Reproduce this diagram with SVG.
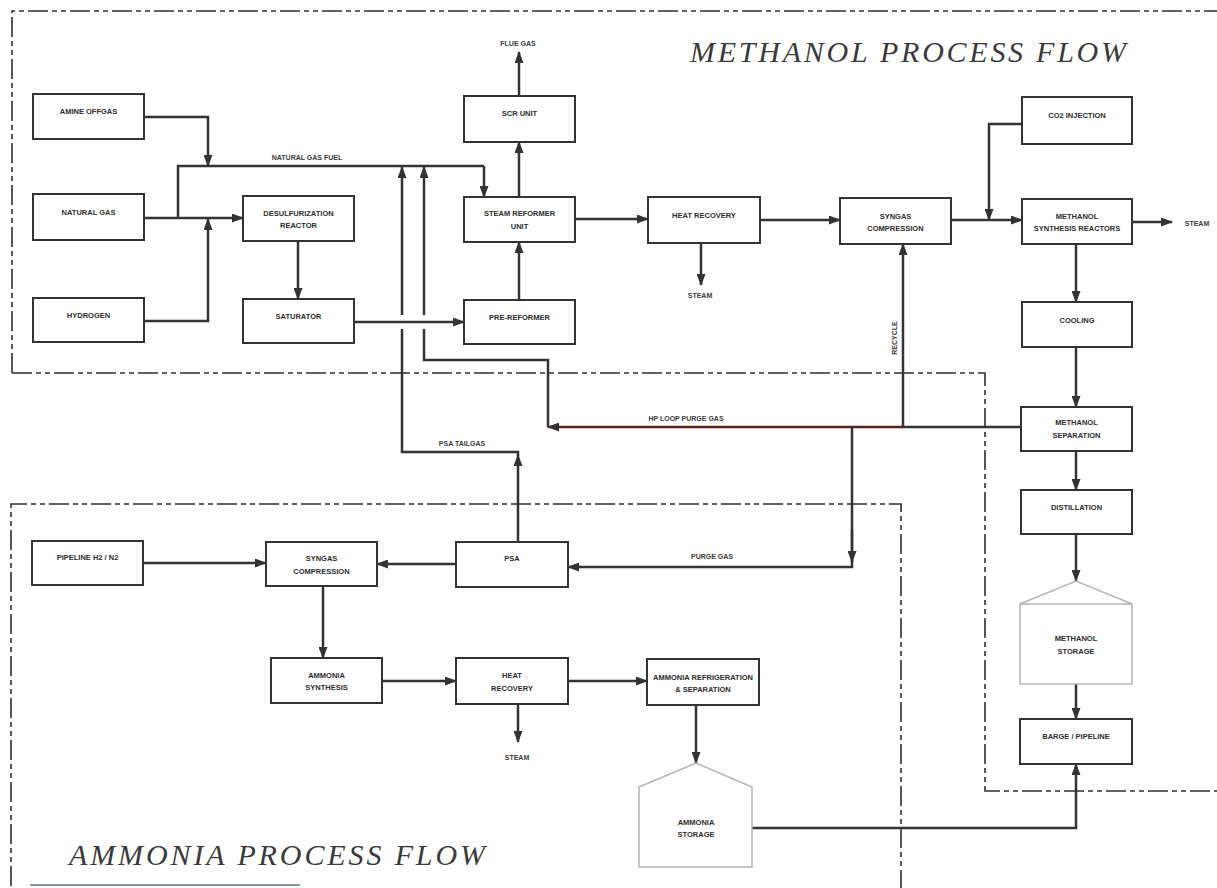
<svg xmlns="http://www.w3.org/2000/svg" width="1217" height="888" viewBox="0 0 1217 888">
<defs>
<marker id="arr" markerUnits="userSpaceOnUse" markerWidth="12" markerHeight="9" refX="11" refY="4.5" orient="auto">
<path d="M0,0 L12,4.5 L0,9 z" fill="#333"/>
</marker>
<style>
.box{fill:#fff;stroke:#333;stroke-width:2}
.tank{fill:#fff;stroke:#b4b4b4;stroke-width:1.5}
.t{font-family:"Liberation Sans",Arial,sans-serif;font-size:7.5px;font-weight:bold;fill:#2c2c2c;text-anchor:middle;dominant-baseline:central}
.lbl{font-family:"Liberation Sans",Arial,sans-serif;font-size:7px;font-weight:bold;fill:#3a3a3a;text-anchor:middle;dominant-baseline:central}
.c{fill:none;stroke:#333;stroke-width:2.5;stroke-linejoin:miter}
.cm{fill:none;stroke:#333;stroke-width:2.5;marker-end:url(#arr)}
.bd{fill:none;stroke:#2e2e2e;stroke-width:1.6;stroke-dasharray:20 4 5 4 5 4}
.title{font-family:"Liberation Serif","Times New Roman",serif;font-style:italic;font-size:30px;fill:#3a3a3a}
</style>
</defs>
<rect width="1217" height="888" fill="#fff"/>

<g id="boundaries">
<path class="bd" d="M12,373 V11 H1217"/>
<path class="bd" d="M12,373 H985 V791 H1217"/>
<path class="bd" d="M11,886 V504 H901 V888"/>
<line x1="30" y1="885" x2="300" y2="885" stroke="#7f9a98" stroke-width="2"/>
</g>

<g id="titles">
<text class="title" x="690" y="62" textLength="436" lengthAdjust="spacing">METHANOL PROCESS FLOW</text>
<text class="title" x="69" y="865" textLength="416" lengthAdjust="spacing">AMMONIA PROCESS FLOW</text>
</g>

<g id="connectors">
<!-- methanol -->
<path class="cm" d="M144,117 H208 V166"/>
<path class="cm" d="M144,218 H243"/>
<path class="c" d="M178,218 V166 H484"/>
<path class="cm" d="M484,166 V197"/>
<path class="cm" d="M144,321 H208 V219"/>
<path class="cm" d="M298,241 V299"/>
<path class="cm" d="M519,300 V242"/>
<path class="cm" d="M519,197 V142"/>
<path class="cm" d="M519,96 V52"/>
<path class="cm" d="M575,219 H648"/>
<path class="cm" d="M701,243 V285"/>
<path class="cm" d="M760,220 H840"/>
<path class="cm" d="M951,220 H1022"/>
<path class="cm" d="M1022,124 H989 V220"/>
<path class="cm" d="M1132,222 H1172"/>
<path class="cm" d="M1076,244 V302"/>
<path class="cm" d="M1076,347 V407"/>
<path class="cm" d="M1076,451 V490"/>
<path class="cm" d="M1076,534 V581"/>
<path class="cm" d="M1076,684 V719"/>
<path class="cm" d="M752,828 H1076 V764"/>
<!-- recycle / purge -->
<path class="c" d="M1021,427 H903"/>
<path fill="none" stroke="#5a2020" stroke-width="2.5" d="M903,427 H548" marker-end="url(#arr)"/>
<path class="cm" d="M548,427 V360 H424 V167"/>
<path class="cm" d="M903,427 V244"/>
<path class="cm" d="M852,427 V567 H568"/>
<path class="cm" d="M852,530 V562"/>
<path class="cm" d="M518,542 V455"/>
<path class="cm" d="M518,456 V452 H402 V167"/>
<!-- line hops where the verticals cross the saturator line -->
<path fill="none" stroke="#fff" stroke-width="4" d="M402,315 V329 M424,315 V329"/>
<path class="cm" d="M354,322 H464"/>
<!-- ammonia -->
<path class="cm" d="M143,563 H266"/>
<path class="cm" d="M456,564 H377"/>
<path class="cm" d="M323,586 V658"/>
<path class="cm" d="M382,681 H456"/>
<path class="cm" d="M568,681 H647"/>
<path class="cm" d="M518,704 V742"/>
<path class="cm" d="M696,705 V763"/>
</g>

<g id="labels">
<text class="lbl" x="307" y="157">NATURAL GAS FUEL</text>
<text class="lbl" x="518" y="43">FLUE GAS</text>
<text class="lbl" x="700" y="295">STEAM</text>
<text class="lbl" x="1197" y="223">STEAM</text>
<text class="lbl" x="686" y="418">HP LOOP PURGE GAS</text>
<text class="lbl" x="462" y="443">PSA TAILGAS</text>
<text class="lbl" x="712" y="556">PURGE GAS</text>
<text class="lbl" x="517" y="757">STEAM</text>
<text class="lbl" transform="translate(894,338) rotate(-90)" x="0" y="0">RECYCLE</text>
</g>

<g id="amine-offgas"><rect class="box" x="33" y="94" width="111" height="45"/><text class="t" x="88.5" y="111">AMINE OFFGAS</text></g>
<g id="natural-gas"><rect class="box" x="33" y="194" width="111" height="46"/><text class="t" x="88.5" y="212">NATURAL GAS</text></g>
<g id="hydrogen"><rect class="box" x="33" y="298" width="111" height="44"/><text class="t" x="88.5" y="315">HYDROGEN</text></g>
<g id="desulfurization"><rect class="box" x="243" y="196" width="111" height="45"/><text class="t" x="298.5" y="213">DESULFURIZATION</text><text class="t" x="298.5" y="225">REACTOR</text></g>
<g id="saturator"><rect class="box" x="243" y="299" width="111" height="44"/><text class="t" x="298.5" y="316">SATURATOR</text></g>
<g id="scr-unit"><rect class="box" x="464" y="96" width="111" height="46"/><text class="t" x="519.5" y="113">SCR UNIT</text></g>
<g id="steam-reformer"><rect class="box" x="464" y="197" width="111" height="45"/><text class="t" x="519.5" y="213">STEAM REFORMER</text><text class="t" x="519.5" y="226">UNIT</text></g>
<g id="pre-reformer"><rect class="box" x="464" y="300" width="111" height="44"/><text class="t" x="519.5" y="317">PRE-REFORMER</text></g>
<g id="heat-recovery-m"><rect class="box" x="648" y="197" width="112" height="46"/><text class="t" x="704" y="215">HEAT RECOVERY</text></g>
<g id="syngas-compression-m"><rect class="box" x="840" y="198" width="111" height="46"/><text class="t" x="895.5" y="216">SYNGAS</text><text class="t" x="895.5" y="228">COMPRESSION</text></g>
<g id="co2-injection"><rect class="box" x="1022" y="97" width="110" height="47"/><text class="t" x="1077" y="115">CO2 INJECTION</text></g>
<g id="methanol-synthesis"><rect class="box" x="1022" y="199" width="110" height="45"/><text class="t" x="1077" y="216">METHANOL</text><text class="t" x="1077" y="228">SYNTHESIS REACTORS</text></g>
<g id="cooling"><rect class="box" x="1022" y="302" width="110" height="45"/><text class="t" x="1077" y="320">COOLING</text></g>
<g id="methanol-separation"><rect class="box" x="1021" y="407" width="111" height="44"/><text class="t" x="1076.5" y="422">METHANOL</text><text class="t" x="1076.5" y="435">SEPARATION</text></g>
<g id="distillation"><rect class="box" x="1021" y="490" width="111" height="44"/><text class="t" x="1076.5" y="507">DISTILLATION</text></g>
<g id="methanol-storage"><path class="tank" d="M1020,604 L1076,581 L1132,604 V684 H1020 Z M1020,604 H1132"/><text class="t" x="1076" y="638">METHANOL</text><text class="t" x="1076" y="651">STORAGE</text></g>
<g id="barge-pipeline"><rect class="box" x="1020" y="719" width="112" height="45"/><text class="t" x="1076" y="736">BARGE / PIPELINE</text></g>

<g id="pipeline-h2n2"><rect class="box" x="32" y="541" width="111" height="44"/><text class="t" x="87.5" y="557">PIPELINE H2 / N2</text></g>
<g id="syngas-compression-a"><rect class="box" x="266" y="542" width="111" height="44"/><text class="t" x="321.5" y="558">SYNGAS</text><text class="t" x="321.5" y="571">COMPRESSION</text></g>
<g id="psa"><rect class="box" x="456" y="542" width="112" height="45"/><text class="t" x="512" y="558">PSA</text></g>
<g id="ammonia-synthesis"><rect class="box" x="271" y="658" width="111" height="45"/><text class="t" x="326.5" y="675">AMMONIA</text><text class="t" x="326.5" y="687">SYNTHESIS</text></g>
<g id="heat-recovery-a"><rect class="box" x="456" y="658" width="112" height="46"/><text class="t" x="512" y="675">HEAT</text><text class="t" x="512" y="688">RECOVERY</text></g>
<g id="ammonia-refrigeration"><rect class="box" x="647" y="659" width="112" height="46"/><text class="t" x="703" y="677">AMMONIA REFRIGERATION</text><text class="t" x="703" y="689">&amp; SEPARATION</text></g>
<g id="ammonia-storage"><path class="tank" d="M639,787 L696,763 L752,787 V867 H639 Z"/><text class="t" x="696" y="822">AMMONIA</text><text class="t" x="696" y="834">STORAGE</text></g>
</svg>
